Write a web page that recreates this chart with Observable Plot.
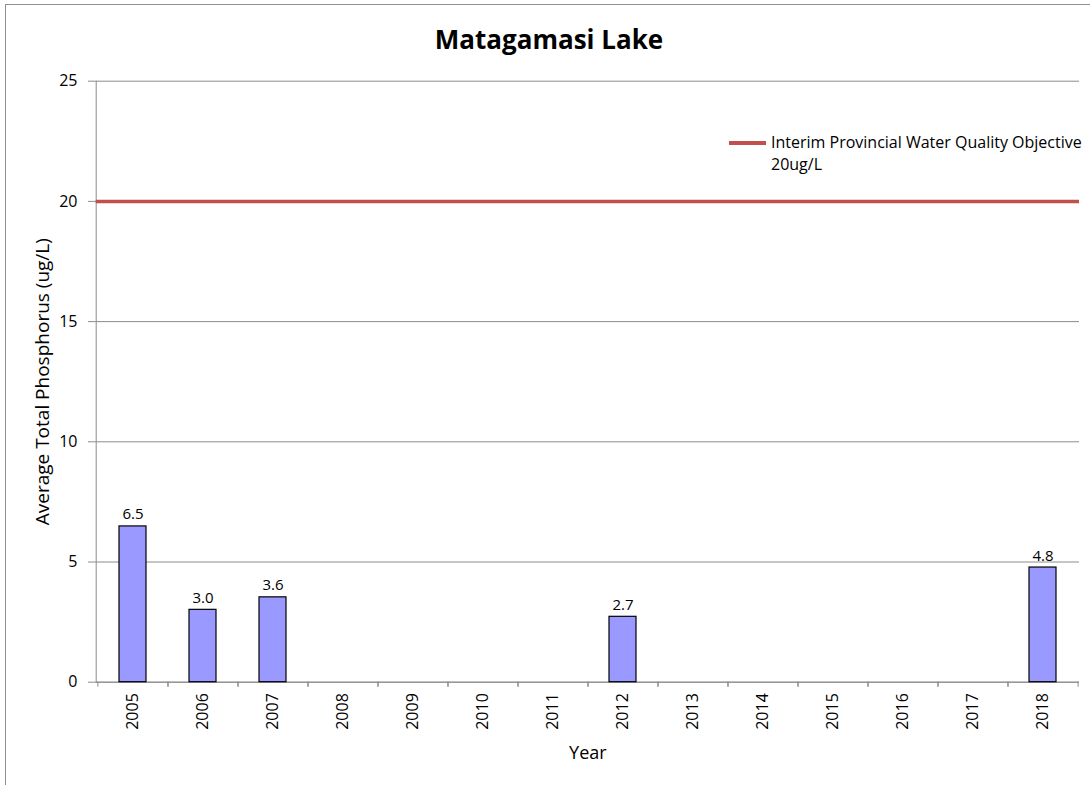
<!DOCTYPE html>
<html>
<head>
<meta charset="utf-8">
<script src="https://cdn.jsdelivr.net/npm/d3@7"></script>
<script src="https://cdn.jsdelivr.net/npm/@observablehq/plot@0.6"></script>
<style>
  html, body { margin: 0; padding: 0; background: #fff; }
  #wrap { position: relative; width: 1090px; height: 785px; overflow: hidden; font-family: "Open Sans", sans-serif; }
  #border { position: absolute; left: 5px; top: 4px; width: 1200px; height: 900px; border-left: 1.5px solid #8f8f8f; border-top: 1.5px solid #8f8f8f; }
  #title { position: absolute; left: 549px; top: 21px; transform: translateX(-50%); font-size: 26px; line-height: 36px; font-weight: bold; color: #000; white-space: nowrap; }
  #legend { position: absolute; left: 729px; top: 131px; }
  #legend .swatch { position: absolute; left: 0; top: 10px; width: 37px; height: 4px; background: #C0504D; }
  #legend .txt { position: absolute; left: 42px; top: 0; font-size: 16px; line-height: 22px; white-space: nowrap; color: #000; }
  #chart { position: absolute; left: 0; top: 0; }
</style>
</head>
<body>
<div id="wrap">
  <div id="border"></div>
  <div id="chart"></div>
  <div id="title">Matagamasi Lake</div>
  <div id="legend"><div class="swatch"></div><div class="txt">Interim Provincial Water Quality Objective<br>20ug/L</div></div>
</div>
<script>
const allYears = ["2005","2006","2007","2008","2009","2010","2011","2012","2013","2014","2015","2016","2017","2018"];
const barYears = ["2005","2006","2007","2012","2018"];
const barValues = [6.48, 3.01, 3.53, 2.72, 4.77];
const barLabels = ["6.5","3.0","3.6","2.7","4.8"];
const objectiveValue = 20;
const yTicks = [0, 5, 10, 15, 20, 25];
const yLabel = "Average Total Phosphorus (ug/L)";
const xLabel = "Year";

const bars = barYears.map((y, i) => ({year: y, value: barValues[i], label: barLabels[i]}));

const W = 1090, H = 785;
const mL = 95.7, mR = 11, mT = 80.7, mB = 103.3;
const band = (W - mL - mR) / allYears.length;
const grid = "#8c8c8c";
const font = "Open Sans, sans-serif";

const chart = Plot.plot({
  width: W,
  height: H,
  marginLeft: mL,
  marginRight: mR,
  marginTop: mT,
  marginBottom: mB,
  style: {fontFamily: font, fontSize: "16px", color: "#000", background: "transparent"},
  x: {domain: allYears, paddingInner: 0.61, paddingOuter: 0.305, align: 0.5, label: null},
  y: {domain: [0, 25], label: null},
  marks: [
    Plot.gridY(yTicks, {stroke: grid, strokeOpacity: 1, strokeWidth: 1}),
    Plot.frame({anchor: "left", stroke: grid}),
    Plot.ruleY([0], {stroke: grid}),
    Plot.axisY(yTicks, {tickSize: 7.7, tickPadding: 11, stroke: grid, fontSize: 16, fill: "#000", label: null}),
    Plot.axisX({tickSize: 5, dx: -band / 2, text: null, stroke: grid, label: null}),
    Plot.axisX({tickSize: 5, dx: band / 2, text: null, stroke: grid, label: null}),
    Plot.axisX({tickSize: 0, tickPadding: 11, tickRotate: -90, fontSize: 16, fill: "#000", label: null}),
    Plot.text([yLabel], {frameAnchor: "left", textAnchor: "middle", dx: -53, rotate: -90, fontSize: 19, fill: "#000"}),
    Plot.text([xLabel], {frameAnchor: "bottom", dy: 77, fontSize: 18, fill: "#000"}),
    Plot.barY(bars, {x: "year", y: "value", fill: "#9999FF", stroke: "#000", strokeWidth: 1.2}),
    Plot.text(bars, {x: "year", y: "value", text: "label", dy: -7, lineAnchor: "bottom", fontSize: 15, fill: "#000"}),
    Plot.ruleY([objectiveValue], {stroke: "#C0504D", strokeWidth: 3.5})
  ]
});
document.getElementById("chart").appendChild(chart);
</script>
</body>
</html>
